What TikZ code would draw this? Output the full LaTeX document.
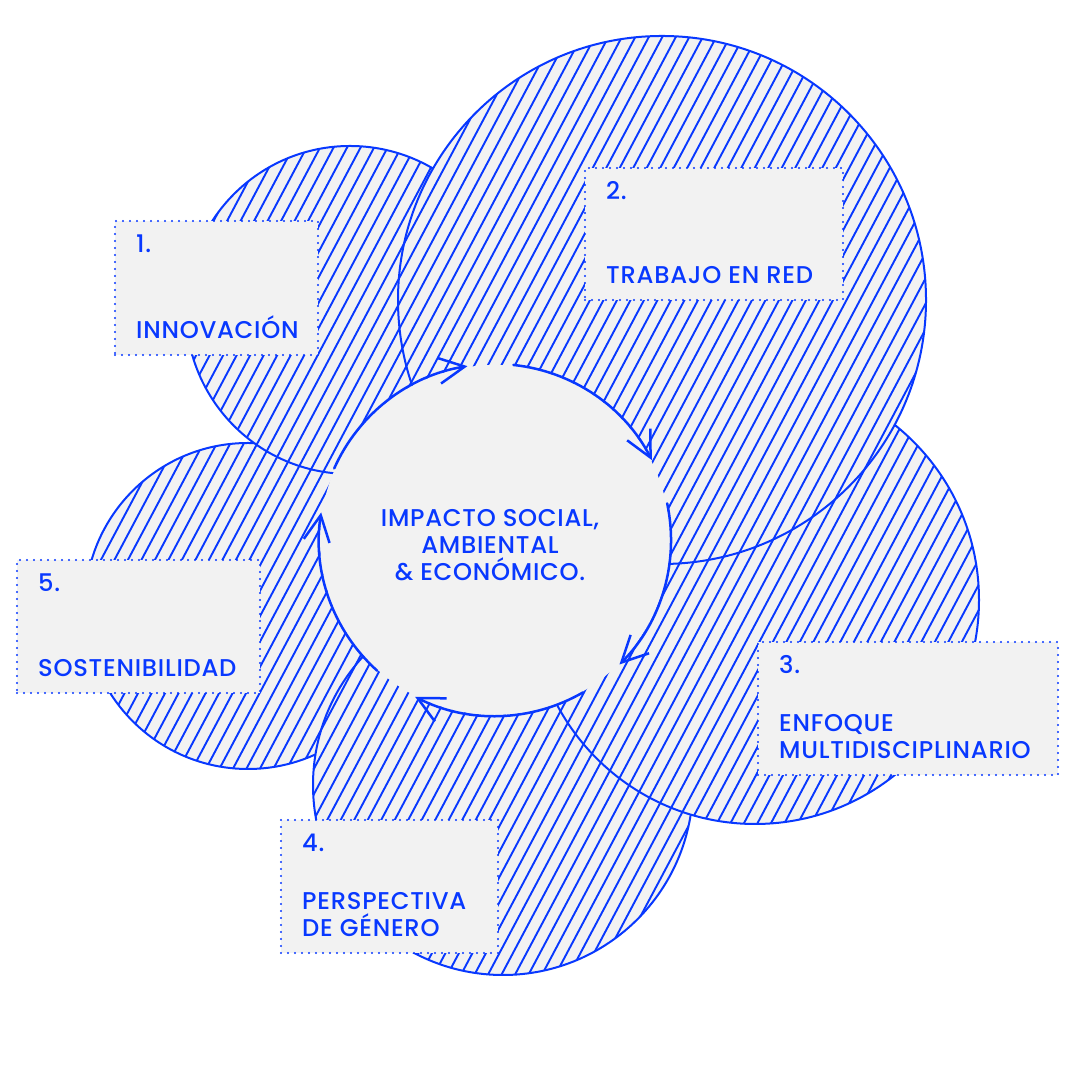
\documentclass[tikz,border=0pt]{standalone}
\usepackage{fontspec}
\setmainfont{Poppins}[UprightFont={* Medium},LetterSpace=3]
\usetikzlibrary{arrows.meta,calc}
\definecolor{inkblue}{RGB}{8,56,255}
\definecolor{paper}{RGB}{242,242,242}
\newcommand{\lbl}{\fontsize{13.8}{15.4}\selectfont}
\tikzset{
  hatch/.style={inkblue,line width=0.38mm},                 % diagonal hatch
  ring/.style={inkblue,line width=0.4mm},                   % disc outline
  cyc/.style={-{Straight Barb[length=5.2mm,width=5.2mm]},inkblue,line width=0.5mm,line cap=round},
  labelbox/.style={fill=paper,draw=inkblue,line width=0.45mm,dash pattern=on 0pt off 1.4mm,line cap=round,inner sep=0pt},
  numtxt/.style={text=inkblue,inner sep=0pt,anchor=base west,font=\lbl},
  titletxt/.style={numtxt,align=left},
}
\newcommand{\hatchdisc}[3]{% x, y, r
  \begin{scope}
    \clip (#1,#2) circle[radius=#3];
    \fill[paper] (#1,#2) circle[radius=#3];
    \foreach \k in {-44,...,81} \draw[hatch] (\k*13.5,0) -- ++(574,1080);
  \end{scope}
  \draw[ring] (#1,#2) circle[radius=#3];
}

\begin{document}
\begin{tikzpicture}[x=0.2mm,y=0.2mm]
  \useasboundingbox (0,0) rectangle (1080,1080);
  % discs, back to front
  \hatchdisc{248}{474}{163}
  \hatchdisc{503}{295}{190}
  \hatchdisc{755}{480}{224}
  \hatchdisc{350}{770}{164}
  \hatchdisc{662}{780}{264}
  % centre
  \node[circle,fill=paper,minimum size=70mm,inner sep=0pt] (impact) at (495,540) {};
  \node[text=inkblue,font=\lbl,align=center] (impact-t) at (490,535) {IMPACTO SOCIAL,\\AMBIENTAL\\\& ECONÓMICO.};
  \foreach \a in {156,84,12,-60,-132}
    \draw[cyc] ([shift={(\a:176)}]impact.center) arc[start angle=\a,delta angle=-57,radius=176];
  % labels
  \node[labelbox,minimum width=40.6mm,minimum height=26.8mm] (innov) at (216.5,792) {};
  \node[numtxt] (innov-n) at ([shift={(22,-33)}]innov.north west) {1.};
  \node[titletxt] (innov-t) at ([shift={(22,18)}]innov.south west) {INNOVACIÓN};
  \node[labelbox,minimum width=51.6mm,minimum height=26.4mm] (red) at (714,846) {};
  \node[numtxt] (red-n) at ([shift={(22,-33)}]red.north west) {2.};
  \node[titletxt] (red-t) at ([shift={(22,18)}]red.south west) {TRABAJO EN RED};
  \node[labelbox,minimum width=60mm,minimum height=26.6mm] (multi) at (908,371.5) {};
  \node[numtxt] (multi-n) at ([shift={(22,-33)}]multi.north west) {3.};
  \node[titletxt] (multi-t) at ([shift={(22,18)}]multi.south west) {ENFOQUE\\MULTIDISCIPLINARIO};
  \node[labelbox,minimum width=43.4mm,minimum height=26.6mm] (genero) at (389.5,193.5) {};
  \node[numtxt] (genero-n) at ([shift={(22,-33)}]genero.north west) {4.};
  \node[titletxt] (genero-t) at ([shift={(22,18)}]genero.south west) {PERSPECTIVA\\DE GÉNERO};
  \node[labelbox,minimum width=48.6mm,minimum height=26.6mm] (sost) at (138.5,453.5) {};
  \node[numtxt] (sost-n) at ([shift={(22,-33)}]sost.north west) {5.};
  \node[titletxt] (sost-t) at ([shift={(22,18)}]sost.south west) {SOSTENIBILIDAD};
\end{tikzpicture}
\end{document}
